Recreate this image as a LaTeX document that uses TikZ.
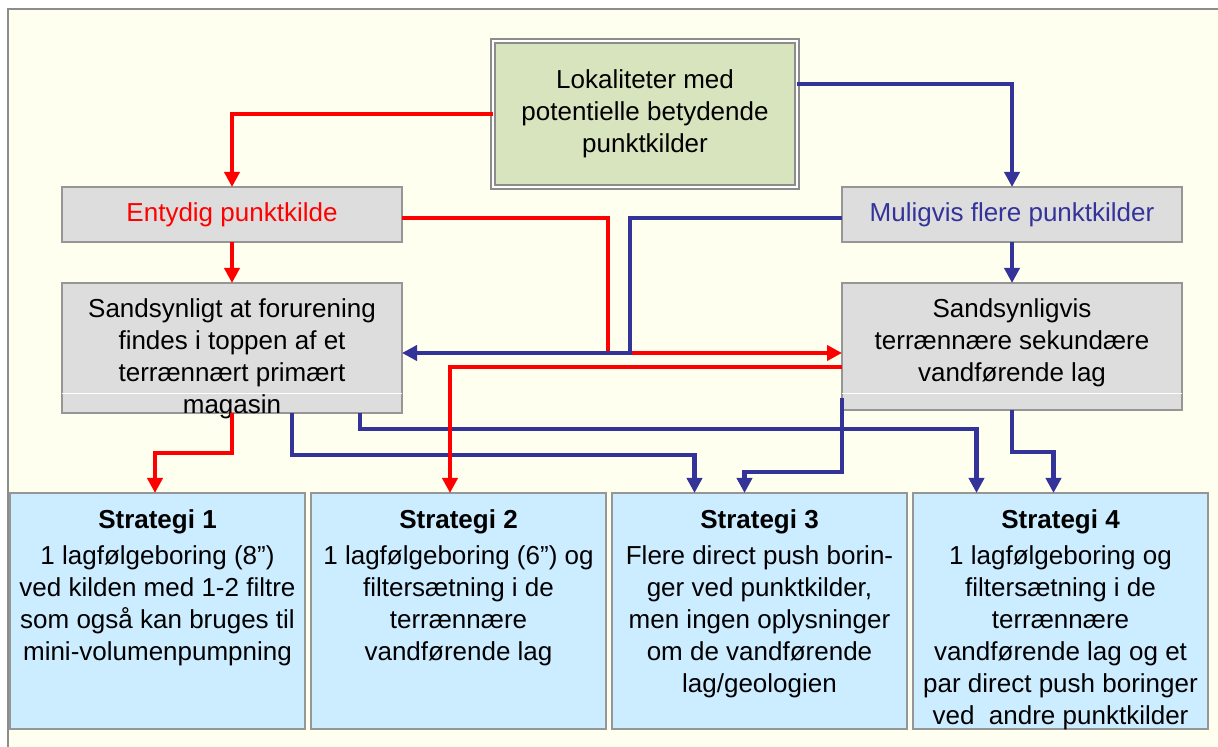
\documentclass[tikz,border=0pt]{standalone}
\usepackage{fontspec}
\setmainfont{Liberation Sans}
\usetikzlibrary{arrows.meta, positioning}
\definecolor{paleyellow}{RGB}{255,255,240}
\definecolor{framegrey}{RGB}{140,140,140}
\definecolor{boxgrey}{RGB}{221,221,221}
\definecolor{edgegrey}{RGB}{150,150,150}
\definecolor{sagegreen}{RGB}{215,228,189}
\definecolor{skyblue}{RGB}{204,236,255}
\definecolor{pathred}{RGB}{255,0,0}
\definecolor{pathblue}{RGB}{51,51,153}
\newcommand{\cellbody}[3]{\parbox[c][#2][t]{#1}{\centering\rule{0pt}{17.5pt}#3}}

\begin{document}
\begin{tikzpicture}[x=0.5pt, y=-0.5pt, node distance=3pt,
  every node/.style={font=\fontsize{13}{16}\selectfont, inner sep=0pt, outer sep=0pt},
  greybox/.style={rectangle, draw=edgegrey, fill=boxgrey, line width=0.75pt},
  stratbox/.style={rectangle, draw=edgegrey, fill=skyblue, line width=0.75pt},
  redline/.style={draw=pathred, line width=2.2pt, -{Triangle[length=7.5pt, width=7.5pt]}},
  blueline/.style={draw=pathblue, line width=2.2pt, -{Triangle[length=7.5pt, width=7.5pt]}}]
\useasboundingbox (0,0) rectangle (1218,747);
\fill[paleyellow] (8,9) rectangle (1218,747);
\draw[framegrey, line width=1pt] (8,747) -- (8,9) -- (1218,9);

\node[rectangle, draw=framegrey, line width=1.1pt, double=white, double distance=1pt, fill=sagegreen, minimum width=152pt, minimum height=73pt, align=center] (lok) at (645,114) {Lokaliteter med\\potentielle betydende\\punktkilder};
\node[greybox, minimum width=170pt, minimum height=27.5pt, text=pathred] (entydig) at (232,214.5) {Entydig punktkilde};
\node[greybox, minimum width=170pt, minimum height=27.5pt, text=pathblue] (muligvis) at (1012,214.5) {Muligvis flere punktkilder};
\node[greybox] (primaer) at (232,348) {\cellbody{170pt}{65pt}{Sandsynligt at forurening\\findes i toppen af et\\terrænnært primært\\magasin}};
\node[greybox] (sekundaer) at (1012,346.5) {\cellbody{170pt}{63.5pt}{Sandsynligvis\\terrænnære sekundære\\vandførende lag}};
\draw[white, line width=0.5pt] ([yshift=9.5pt]primaer.south west) -- ([yshift=9.5pt]primaer.south east);
\draw[white, line width=0.5pt] ([yshift=8pt]sekundaer.south west) -- ([yshift=8pt]sekundaer.south east);

\node[stratbox] (s1) at (157.5,611) {\cellbody{147.5pt}{118pt}{\textbf{Strategi 1}\\[2pt]1 lagfølgeboring (8”)\\ved kilden med 1-2 filtre\\som også kan bruges til\\mini-volumenpumpning}};
\node[stratbox, right=of s1] (s2) {\cellbody{147.5pt}{118pt}{\textbf{Strategi 2}\\[2pt]1 lagfølgeboring (6”) og\\filtersætning i de\\terrænnære\\vandførende lag}};
\node[stratbox, right=of s2] (s3) {\cellbody{147.5pt}{118pt}{\textbf{Strategi 3}\\[2pt]Flere direct push borin-\\ger ved punktkilder,\\men ingen oplysninger\\om de vandførende\\lag/geologien}};
\node[stratbox, right=of s3] (s4) {\cellbody{147.5pt}{118pt}{\textbf{Strategi 4}\\[2pt]1 lagfølgeboring og\\filtersætning i de\\terrænnære\\vandførende lag og et\\par direct push boringer\\ved\ \ andre punktkilder}};

% red branch
\draw[redline] (lok.west) -| (entydig.north);
\draw[redline] (entydig.south) -- (primaer.north);
\draw[redline] ([yshift=-1.75pt]entydig.east) -- ++(206,0) |- ([yshift=-3.25pt]sekundaer.west);
\draw[redline] (primaer.south) -- ++(0,40) -| ([xshift=-1.25pt]s1.north);

% blue branch
\draw[blueline] ([yshift=15pt]lok.east) -| (muligvis.north);
\draw[blueline] (muligvis.south) -- (sekundaer.north);
\draw[blueline] ([yshift=-1.75pt]muligvis.west) -- ++(-212,0) |- ([yshift=-2.5pt]primaer.east);
\draw[blueline] ([xshift=30pt]primaer.south) -- ++(0,42) -| ([xshift=-32.5pt]s3.north);
\draw[blueline] ([xshift=64pt]primaer.south) -- ++(0,16) -| ([xshift=-42pt]s4.north);
\draw[blueline] ([yshift=-25.75pt]sekundaer.west) -- ++(0,74) -| ([xshift=-7.5pt]s3.north);
\draw[blueline] (sekundaer.south) -- ++(0,42) -| ([xshift=-3.5pt]s4.north);

\draw[redline] ([yshift=-10.25pt]sekundaer.west) -| ([xshift=-4.25pt]s2.north);
\end{tikzpicture}
\end{document}
